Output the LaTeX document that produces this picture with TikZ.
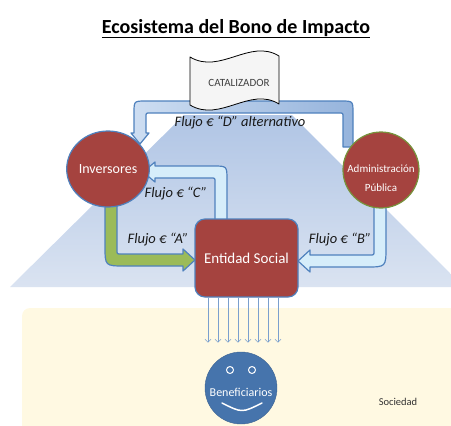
\documentclass[tikz,border=0pt]{standalone}
\usepackage{fontspec}
\setmainfont{Carlito}
\usetikzlibrary{shapes.geometric,arrows.meta}
\definecolor{rojo}{RGB}{165,67,63}
\definecolor{azulborde}{RGB}{79,129,189}
\definecolor{celeste}{RGB}{214,237,250}
\definecolor{verde}{RGB}{155,187,89}
\definecolor{oliva}{RGB}{119,147,60}
\definecolor{azulbenef}{RGB}{70,116,172}
\definecolor{trapa}{RGB}{176,197,229}
\definecolor{trapb}{RGB}{218,227,241}
\definecolor{amarilloa}{RGB}{255,249,226}
\definecolor{amarillob}{RGB}{255,243,193}
\definecolor{bandaa}{RGB}{206,222,242}
\definecolor{bandab}{RGB}{150,180,220}
\begin{document}
\begin{tikzpicture}[
		x=1pt,y=-1pt,
		>={Straight Barb[length=3pt,width=6pt]},
		line join=round,
		circulo/.style={circle,draw=azulborde,fill=rojo,line width=1.2,inner sep=0,minimum size=76},
		texto/.style={text=white,font=\fontsize{#1}{19}\selectfont},
		flujo/.style={font=\fontsize{14.5}{17}\selectfont\itshape,text=black!90},
		banda/.style={draw=azulborde,line width=1.2},
		ojo/.style={circle,draw=white,fill=azulbenef,line width=1,inner sep=0,minimum size=7}
		]
		\useasboundingbox (0,0) rectangle (451,426);
		\clip (0,0) rectangle (451,426);
		\shade[top color=trapa,bottom color=trapb] (10,287) -- (184,115) -- (292,115) -- (451,274) -- (451,287) -- cycle;
		\shade[rounded corners=8,left color=amarilloa,middle color=amarillob,right color=amarilloa] (22,308) rectangle (470,440);
		\node[font=\fontsize{20}{24}\selectfont\bfseries,anchor=base] (titulo) at (236,33) {\underline{Ecosistema del Bono de Impacto}};
		\draw[banda,left color=bandaa,right color=bandab] (343,147) -- (343,117) .. controls (343,113) .. (339,113) -- (150,113) .. controls (146,113) .. (146,117) -- (146,133) -- (149,133) -- (140,144) -- (131,133) -- (134,133) -- (134,113) .. controls (134,101) .. (146,101) -- (341,101) .. controls (353,101) .. (353,113) -- (353,147) -- cycle;
		\draw[fill=black!4,line width=0.8] (190,57) .. controls (220,75) and (250,38) .. (279,56) -- (279,104) .. controls (250,86) and (220,123) .. (190,105) -- cycle;
		\node[font=\fontsize{11}{12}\selectfont,text=black!75] (cat) at (239,83) {CATALIZADOR};
		\draw[banda,fill=celeste] (215,222) -- (215,182) .. controls (215,178) .. (211,178) -- (155,178) -- (155,182) -- (143,172) -- (155,162) -- (155,166) -- (213,166) .. controls (227,166) .. (227,180) -- (227,222) -- cycle;
		\draw[banda,fill=verde] (105,200) -- (105,246) .. controls (105,266) .. (125,266) -- (183,266) -- (183,271) -- (195,260) -- (183,249) -- (183,254) -- (121,254) .. controls (117,254) .. (117,250) -- (117,200) -- cycle;
		\draw[banda,fill=celeste] (386,203) -- (386,247) .. controls (386,267) .. (366,267) -- (310,267) -- (310,272) -- (298,261) -- (310,250) -- (310,255) -- (370,255) .. controls (374,255) .. (374,251) -- (374,203) -- cycle;
		\node[circulo,ellipse,minimum width=70,minimum height=76,texto=14] (inv) at (108,169) {Inversores};
		\node[circulo,draw=oliva] (adm) at (381,170) {};
		\node[texto=11,align=center] (admtxt) at (381,178) {Administración\\Pública};
		\node[rectangle,rounded corners=10,draw=azulborde,fill=rojo,line width=1.2,minimum width=103,minimum height=78,texto=15] (ent) at (246.5,258) {Entidad Social};
		\node[flujo] (fd) at (240,123) {Flujo € “D” alternativo};
		\node[flujo] (fc) at (176,194) {Flujo € “C”};
		\node[flujo] (fa) at (158,240) {Flujo € “A”};
		\node[flujo] (fb) at (340,240) {Flujo € “B”};
		\foreach \x in {208,218,...,278}
			\draw[->,azulborde!75,line width=0.6] (ent.south -| \x,0) -- ++(0,45);
		\node[circle,fill=azulbenef,draw=azulbenef!85!black,minimum size=72,inner sep=0] (ben) at (241,388) {};
		\node[texto=12] (bentxt) at (241,392) {Beneficiarios};
		\node[ojo] (ojoi) at (230,370) {};
		\node[ojo] (ojod) at (252,370) {};
		\draw[white,line width=1.5,line cap=round] (222,403) .. controls (242,413) .. (262,403);
		\node[font=\fontsize{10.5}{12}\selectfont,text=black!80] (soc) at (398,402) {Sociedad};
\end{tikzpicture}
\end{document}
